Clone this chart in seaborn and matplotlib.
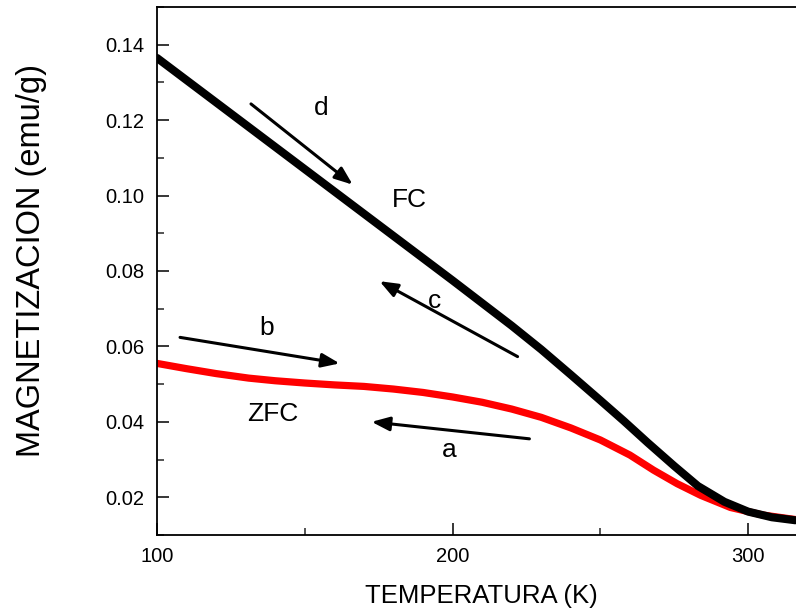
import matplotlib
matplotlib.use("Agg")
import matplotlib.pyplot as plt
import seaborn as sns
import pandas as pd
from matplotlib.ticker import MultipleLocator

# Data
T_fc = [100, 110, 120, 130, 140, 150, 160, 170, 180, 190, 200, 210, 220, 230, 240, 250,
        258, 266, 275, 283, 292, 300, 308, 316]
M_fc = [0.1365, 0.1306, 0.1247, 0.1188, 0.1129, 0.1070, 0.1011, 0.0952, 0.0893, 0.0834,
        0.0775, 0.0715, 0.0655, 0.0592, 0.0525, 0.0457, 0.0402, 0.0345, 0.0283, 0.0230,
        0.0188, 0.0162, 0.0147, 0.0139]
T_zfc = [100, 110, 120, 131, 140, 150, 160, 170, 180, 190, 200, 210, 220, 230, 240, 250,
         260, 268, 276, 284, 294, 305, 316]
M_zfc = [0.0555, 0.0541, 0.0528, 0.0516, 0.0509, 0.0503, 0.0498, 0.0494, 0.0487, 0.0478,
         0.0466, 0.0452, 0.0434, 0.0412, 0.0384, 0.0352, 0.0312, 0.0272, 0.0236, 0.0205,
         0.0173, 0.0153, 0.0141]

x_ticks = [100, 200, 300]
y_ticks = [0.02, 0.04, 0.06, 0.08, 0.10, 0.12, 0.14]

labels = ["d", "FC", "c", "b", "ZFC", "a"]
label_pos = [(155.4, 0.1232), (185.5, 0.0987), (193.9, 0.0720), (137.2, 0.0649), (139.2, 0.0421), (199.0, 0.0325)]
arrows = [((131.8, 0.1243), (166.2, 0.1029)),
          ((222.0, 0.0573), (175.3, 0.0773)),
          ((107.8, 0.0624), (161.8, 0.0555)),
          ((226.0, 0.0355), (172.6, 0.0400))]

sns.set_theme(style="white")
plt.rcParams['font.family'] = ['Liberation Sans', 'DejaVu Sans']

fig = plt.figure(figsize=(7.96, 6.09), dpi=100)
ax = fig.add_axes([157/796, 74/609, 639/796, 528/609])

df_fc = pd.DataFrame({"T": T_fc, "M": M_fc})
df_zfc = pd.DataFrame({"T": T_zfc, "M": M_zfc})
sns.lineplot(data=df_zfc, x="T", y="M", ax=ax, color="#ff0000", linewidth=5.2, sort=False)
sns.lineplot(data=df_fc, x="T", y="M", ax=ax, color="black", linewidth=5.8, sort=False)

ax.set_xlim(100, 316.2)
ax.set_ylim(0.01, 0.15)
ax.set_xticks(x_ticks)
ax.set_xticklabels([str(v) for v in x_ticks])
ax.set_yticks(y_ticks)
ax.set_yticklabels([f"{v:.2f}" for v in y_ticks])
ax.xaxis.set_minor_locator(MultipleLocator(50))
ax.yaxis.set_minor_locator(MultipleLocator(0.01))
ax.tick_params(which="major", direction="in", length=8.5, width=1.1, labelsize=14.5, colors="black", pad=9)
ax.tick_params(which="minor", direction="in", length=5, width=1.1)
ax.tick_params(axis="x", which="both", top=False, bottom=True)
ax.tick_params(axis="y", which="both", left=True, right=False)
for s in ["left", "bottom", "top"]:
    ax.spines[s].set_visible(True)
    ax.spines[s].set_color("black")
    ax.spines[s].set_linewidth(1.3)
ax.spines["right"].set_visible(False)

ax.set_xlabel("TEMPERATURA (K)", fontsize=18.5, color="black")
ax.set_ylabel("MAGNETIZACION (emu/g)", fontsize=23.5, color="black")
ax.xaxis.set_label_coords(0.508, -0.093)
ax.yaxis.set_label_coords(-0.172, 0.52)

for lab, (x, y) in zip(labels, label_pos):
    ax.text(x, y, lab, fontsize=19, ha="center", va="center", color="black")
for (x0, y0), (x1, y1) in arrows:
    ax.annotate("", xy=(x1, y1), xytext=(x0, y0),
                arrowprops=dict(arrowstyle="-|>,head_length=0.9,head_width=0.35", color="black", lw=2.2,
                                shrinkA=0, shrinkB=0))

fig.savefig("out.png", dpi=100)
